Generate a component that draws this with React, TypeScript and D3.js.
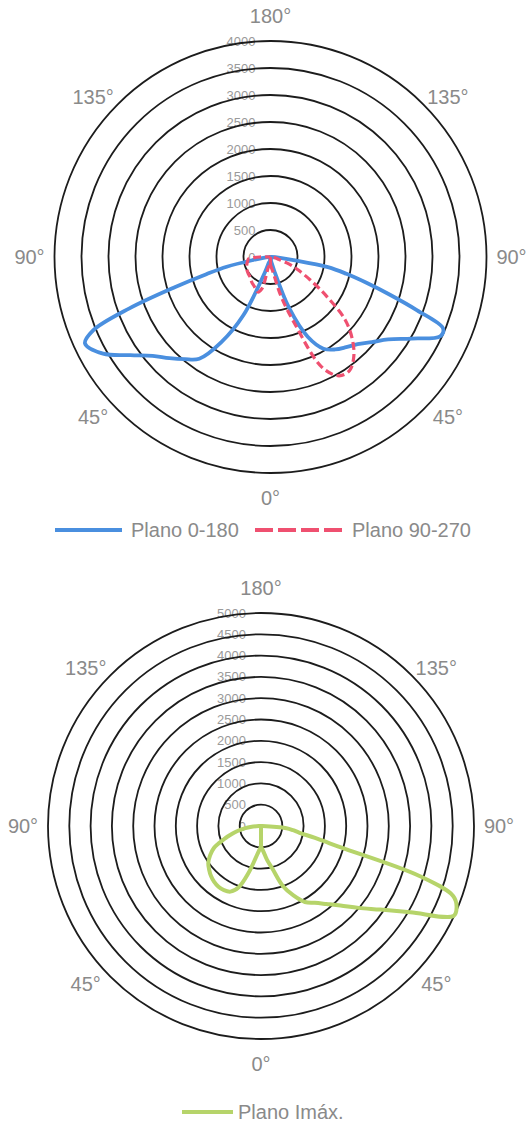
import React from "react";
import * as d3 from "d3";

// ---------- DATA ----------
// gamma angle from nadir (0° = bottom, 180° = top), degrees
const gammaDeg = [0, 5, 10, 15, 20, 25, 30, 35, 40, 45, 50, 55, 60, 65, 67.5, 70, 72.5, 75, 77.5, 80, 82.5, 85, 90, 95, 100, 120, 150, 180];

// Plano 0-180 (cd) : left half and right half of the diagram
const plano0180Left = [50, 60, 80, 100, 300, 1190, 1820, 2300, 2470, 2650, 2850, 3170, 3580, 3790, 3560, 2780, 1860, 1230, 830, 340, 130, 40, 0, 0, 0, 0, 0, 0];
const plano0180Right = [50, 60, 100, 250, 1000, 1630, 1960, 2090, 2180, 2280, 2450, 2660, 3020, 3470, 3460, 2890, 2310, 1830, 1440, 1080, 430, 180, 20, 0, 0, 0, 0, 0];

// Plano 90-270 (cd)
const plano90270Left = [150, 170, 180, 600, 690, 650, 615, 590, 560, 530, 520, 510, 500, 490, 480, 470, 460, 450, 440, 430, 420, 410, 200, 0, 0, 0, 0, 0];
const plano90270Right = [150, 200, 300, 750, 1320, 2250, 2540, 2560, 2400, 2140, 1800, 1270, 850, 560, 440, 320, 190, 140, 110, 90, 70, 50, 20, 0, 0, 0, 0, 0];

// Plano Imáx. (cd)
const planoImaxLeft = [485, 590, 790, 1150, 1530, 1700, 1740, 1740, 1710, 1660, 1590, 1510, 1380, 1220, 1080, 940, 820, 700, 590, 480, 370, 250, 50, 0, 0, 0, 0, 0];
const planoImaxRight = [485, 590, 800, 1040, 1500, 1800, 2060, 2200, 2390, 2640, 2990, 3420, 4050, 4990, 4970, 4800, 3900, 1940, 1300, 920, 760, 600, 30, 0, 0, 0, 0, 0];

// ring ticks
const ringTicks1 = [0, 500, 1000, 1500, 2000, 2500, 3000, 3500, 4000];
const ringTicks2 = [0, 500, 1000, 1500, 2000, 2500, 3000, 3500, 4000, 4500, 5000];

// angle ticks
const angleTicks = [0, 45, 90, 135, 180];

// legend labels
const legendNames1 = ["Plano 0-180", "Plano 90-270"];
const legendNames2 = ["Plano Imáx."];

// ---------- STYLE ----------
const FONT = "'Liberation Sans', Arial, sans-serif";
const BLUE = "#4a8fdf";
const RED = "#ef5070";
const GREEN = "#b6d46a";
const TEXT = "#8a8a8a";
const RING = "#1c1c1c";

type SeriesDef = { left: number[]; right: number[]; color: string; width: number; dash?: string };

const toRad = (g: number) => (g * Math.PI) / 180;

function Polar(props: { cx: number; cy: number; R: number; ticks: number[]; series: SeriesDef[] }) {
  const { cx, cy, R, ticks, series } = props;
  const max = d3.max(ticks) as number;
  const r = d3.scaleLinear().domain([0, max]).range([0, R]);

  const half = (vals: number[], side: number) =>
    d3
      .lineRadial<number>()
      .angle((_, i) => Math.PI - side * toRad(gammaDeg[i]))
      .radius((v) => r(v))
      .curve(d3.curveCatmullRom.alpha(0.5))(vals) || "";

  const connector = (s: SeriesDef) =>
    d3
      .lineRadial<[number, number]>()
      .angle((d) => d[0])
      .radius((d) => r(d[1]))([
      [Math.PI + toRad(gammaDeg[gammaDeg.length - 1]), s.left[s.left.length - 1]],
      [Math.PI, s.right[0]],
    ]) || "";

  const LR = R + 25;
  const angleLabels: { x: number; y: number; t: string }[] = [];
  angleTicks.forEach((g) => {
    const sides = g === 0 || g === 180 ? [1] : [-1, 1];
    sides.forEach((side) => {
      let x = side * Math.sin(toRad(g)) * LR;
      let y = Math.cos(toRad(g)) * LR;
      if (g === 45 || g === 135) {
        x += side * 7;
        y -= Math.sign(y) * 10;
      }
      angleLabels.push({ x: cx + x, y: cy + y, t: `${g}°` });
    });
  });

  return (
    <g>
      {ticks.map((t) => (
        <text
          key={"l" + t}
          x={cx - 15}
          y={cy - r(t)}
          textAnchor="end"
          dominantBaseline="central"
          fontSize={13}
          fontFamily={FONT}
          fill="#9a9a9a"
        >
          {t}
        </text>
      ))}
      {ticks
        .filter((t) => t > 0)
        .map((t) => (
          <circle key={"c" + t} cx={cx} cy={cy} r={r(t)} fill="none" stroke={RING} strokeWidth={1.8} />
        ))}
      <g transform={`translate(${cx},${cy})`}>
        {series.map((s, i) => (
          <g key={i} fill="none" stroke={s.color} strokeWidth={s.width} strokeDasharray={s.dash} strokeLinejoin="round" strokeLinecap={s.dash ? "butt" : "round"}>
            <path d={half(s.left, -1)} />
            <path d={connector(s)} />
            <path d={half(s.right, 1)} />
          </g>
        ))}
      </g>
      {angleLabels.map((a, i) => (
        <text key={"a" + i} x={a.x} y={a.y} textAnchor="middle" dominantBaseline="central" fontSize={20} fontFamily={FONT} fill={TEXT}>
          {a.t}
        </text>
      ))}
    </g>
  );
}

export default function App() {
  return (
    <svg width={527} height={1123} style={{ position: "absolute", left: 0, top: 0, background: "#fff" }}>
      <rect width={527} height={1123} fill="#fff" />
      <Polar
        cx={270.5}
        cy={257}
        R={216}
        ticks={ringTicks1}
        series={[
          { left: plano0180Left, right: plano0180Right, color: BLUE, width: 3.8 },
          { left: plano90270Left, right: plano90270Right, color: RED, width: 3.2, dash: "8 4" },
        ]}
      />
      {/* legend 1 */}
      <line x1={55} x2={122} y1={530} y2={530} stroke={BLUE} strokeWidth={4} />
      <text x={131} y={530} dominantBaseline="central" fontSize={20} fontFamily={FONT} fill={TEXT}>
        {legendNames1[0]}
      </text>
      <line x1={255} x2={342} y1={530} y2={530} stroke={RED} strokeWidth={4} strokeDasharray="18 5" />
      <text x={352} y={530} dominantBaseline="central" fontSize={20} fontFamily={FONT} fill={TEXT}>
        {legendNames1[1]}
      </text>

      <Polar
        cx={261}
        cy={826}
        R={213}
        ticks={ringTicks2}
        series={[{ left: planoImaxLeft, right: planoImaxRight, color: GREEN, width: 4 }]}
      />
      {/* legend 2 */}
      <line x1={182} x2={233} y1={1112} y2={1112} stroke={GREEN} strokeWidth={4} />
      <text x={238} y={1112} dominantBaseline="central" fontSize={20} fontFamily={FONT} fill={TEXT}>
        {legendNames2[0]}
      </text>
    </svg>
  );
}
